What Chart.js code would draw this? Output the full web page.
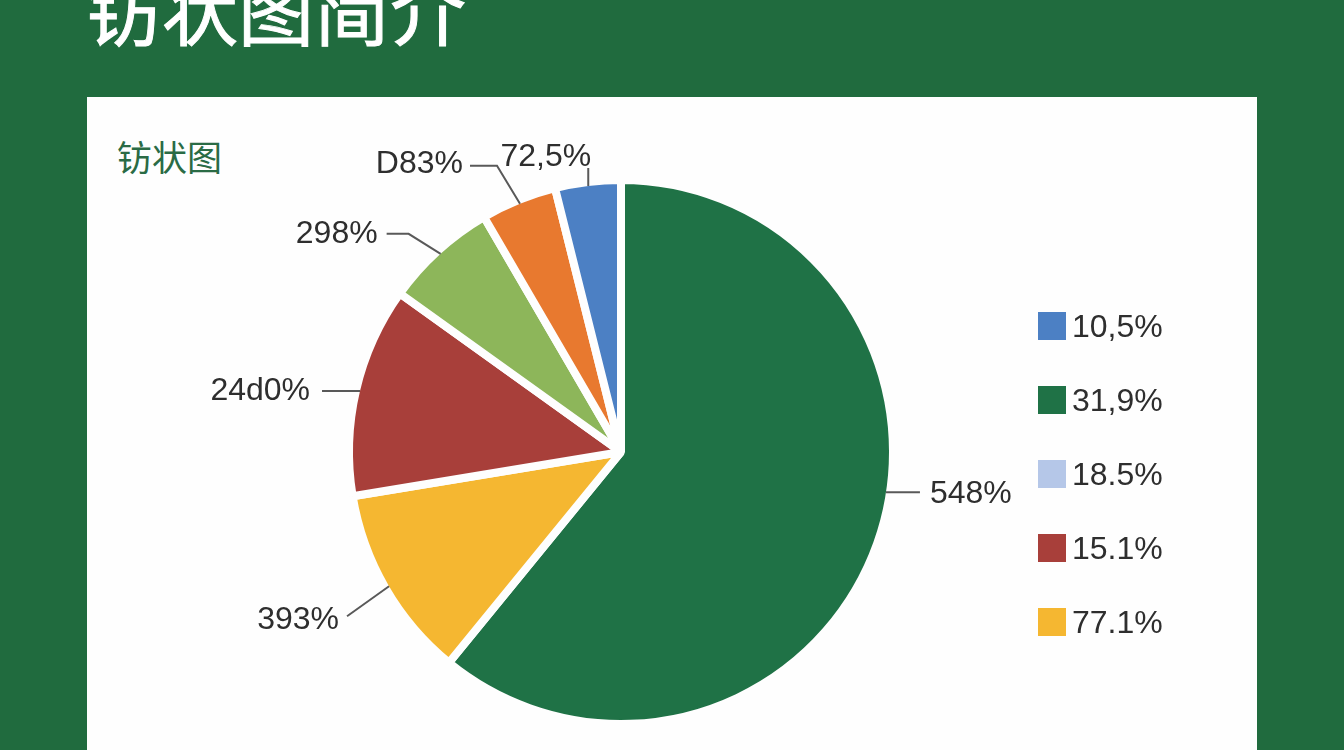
<!DOCTYPE html>
<html>
<head>
<meta charset="utf-8">
<script src="https://cdn.jsdelivr.net/npm/chart.js@4/dist/chart.umd.min.js"></script>
<style>
  html, body { margin: 0; padding: 0; }
  body {
    width: 1344px; height: 750px; overflow: hidden; position: relative;
    background: #206b3e;
    font-family: "Liberation Sans", "Noto Sans CJK SC", sans-serif;
  }
  #title {
    position: absolute; left: 86px; top: -31px;
    font: 400 76px/1 "Noto Sans CJK SC", sans-serif; color: #fff;
    -webkit-text-stroke: 1px #fff;
  }
  #panel {
    position: absolute; left: 87px; top: 97px; width: 1170px; height: 700px;
    background: #fefefe;
  }
  #subtitle {
    position: absolute; left: 117px; top: 138px;
    font: 400 35px/1 "Noto Sans CJK SC", sans-serif; color: #2a6b45;
  }
  #chart { position: absolute; left: 0; top: 0; }
  #legend { position: absolute; left: 1038px; top: 312px; }
  .item { display: flex; align-items: center; height: 28px; margin-bottom: 46px; }
  .box { width: 28px; height: 28px; margin-right: 6px; }
  .txt { font: 32px "Liberation Sans", sans-serif; color: #2e2e2e; }
</style>
</head>
<body>
<div id="title">钫状图简介</div>
<div id="panel"></div>
<div id="subtitle">钫状图</div>
<canvas id="chart" width="1344" height="750"></canvas>
<div id="legend"></div>
<script>
// slice labels as printed next to the pie, clockwise from 12 o'clock
const sliceLabels = ['548%', '393%', '24d0%', '298%', 'D83%', '72,5%'];
const sliceValues = [60.9, 11.5, 12.5, 6.7, 4.5, 3.9];
const sliceColors = ['#1f7246', '#f5b731', '#a83f3a', '#8db65a', '#e8792f', '#4c80c4'];

// legend on the right
const legendLabels = ['10,5%', '31,9%', '18.5%', '15.1%', '77.1%'];
const legendColors = ['#4c80c4', '#1f7246', '#b5c7e8', '#a83f3a', '#f5b731'];

const legendEl = document.getElementById('legend');
legendLabels.forEach((label, i) => {
  const row = document.createElement('div');
  row.className = 'item';
  row.innerHTML = `<div class="box" style="background:${legendColors[i]}"></div><span class="txt">${label}</span>`;
  legendEl.appendChild(row);
});

// leader line per slice: where on the arc it starts, the elbow offsets, and text side
const leaders = [
  { frac: 0.45, path: [[34, 0]], align: 'left', tx: 10, ty: 2 },
  { frac: 0.5, path: [[-42, 30]], align: 'right', tx: -8, ty: 4 },
  { frac: 0.5, path: [[-38, 0]], align: 'right', tx: -12, ty: 0 },
  { frac: 0.5, path: [[-32, -20], [-54, -20]], align: 'right', tx: -9, ty: 0 },
  { frac: 0.5, path: [[-23, -38], [-50, -38]], align: 'right', tx: -7, ty: -2 },
  { frac: 0.5, path: [[0, -18]], align: 'above', tx: 3, ty: -2 },
];

const leaderPlugin = {
  id: 'leaders',
  afterDatasetsDraw(chart) {
    const { ctx } = chart;
    const arcs = chart.getDatasetMeta(0).data;
    ctx.save();
    ctx.strokeStyle = '#595959';
    ctx.lineWidth = 2;
    ctx.fillStyle = '#2e2e2e';
    ctx.font = '32px "Liberation Sans", sans-serif';
    arcs.forEach((arc, i) => {
      const { x, y, startAngle, endAngle, outerRadius } = arc.getProps(['x', 'y', 'startAngle', 'endAngle', 'outerRadius']);
      const cfg = leaders[i];
      const a = startAngle + (endAngle - startAngle) * cfg.frac;
      const r = outerRadius - 4;
      const ax = x + Math.cos(a) * r;
      const ay = y + Math.sin(a) * r;
      ctx.beginPath();
      ctx.moveTo(ax, ay);
      let ex = ax, ey = ay;
      cfg.path.forEach(([dx, dy]) => {
        ex = ax + dx; ey = ay + dy;
        ctx.lineTo(ex, ey);
      });
      ctx.stroke();
      if (cfg.align === 'above') {
        ctx.textAlign = 'right';
        ctx.textBaseline = 'alphabetic';
      } else {
        ctx.textAlign = cfg.align;
        ctx.textBaseline = 'middle';
      }
      ctx.fillText(sliceLabels[i], ex + cfg.tx, ey + cfg.ty);
    });
    ctx.restore();
  },
};

new Chart(document.getElementById('chart'), {
  type: 'pie',
  data: {
    labels: sliceLabels,
    datasets: [{
      data: sliceValues,
      backgroundColor: sliceColors,
      borderColor: '#fefefe',
      borderWidth: 8,
    }],
  },
  options: {
    responsive: false,
    animation: false,
    radius: 272,
    layout: { padding: { left: 341, right: 443, top: 172, bottom: 18 } },
    plugins: {
      legend: { display: false },
      tooltip: { enabled: false },
    },
  },
  plugins: [leaderPlugin],
});
</script>
</body>
</html>
